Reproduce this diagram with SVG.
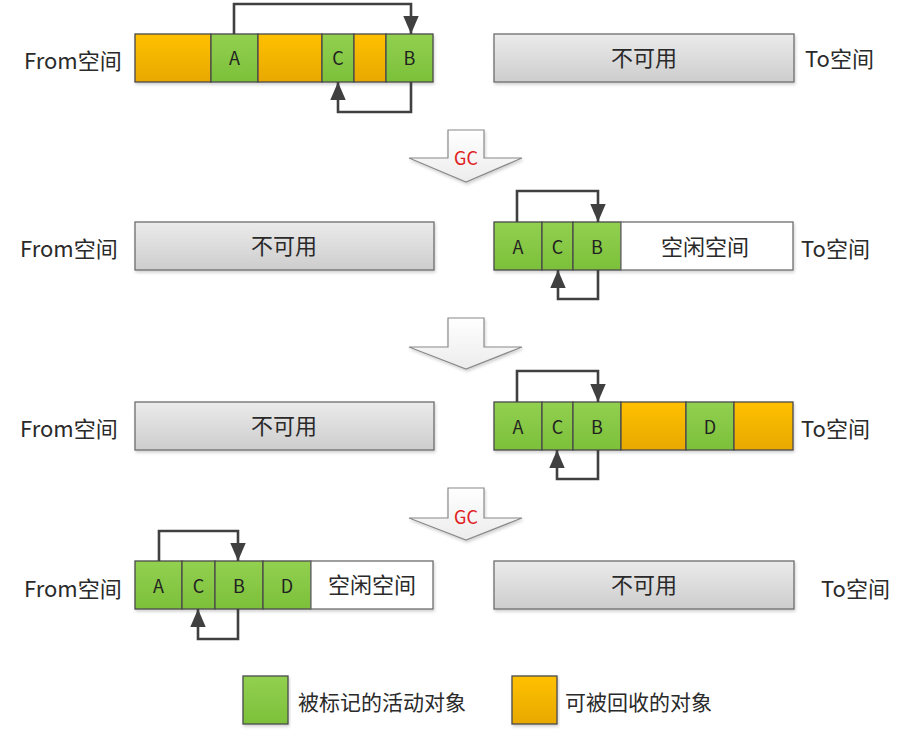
<svg xmlns="http://www.w3.org/2000/svg" width="897" height="751" viewBox="0 0 897 751">
<defs>
<linearGradient id="gGreen" x1="0" y1="0" x2="0" y2="1"><stop offset="0" stop-color="#92d050"/><stop offset="1" stop-color="#7cc03a"/></linearGradient>
<linearGradient id="gOrange" x1="0" y1="0" x2="0" y2="1"><stop offset="0" stop-color="#ffc000"/><stop offset="1" stop-color="#e8a800"/></linearGradient>
<linearGradient id="gGray" x1="0" y1="0" x2="0" y2="1"><stop offset="0" stop-color="#ebebeb"/><stop offset="1" stop-color="#cdcdcd"/></linearGradient>
<linearGradient id="gArrow" x1="0" y1="0" x2="0" y2="1"><stop offset="0" stop-color="#ffffff"/><stop offset="1" stop-color="#ececec"/></linearGradient>
<filter id="sh" x="-5%" y="-10%" width="110%" height="130%"><feDropShadow dx="1" dy="2" stdDeviation="1.5" flood-color="#000" flood-opacity="0.18"/></filter>
<marker id="ah" viewBox="0 0 14 12" refX="14" refY="6" markerWidth="7" markerHeight="6" orient="auto" markerUnits="strokeWidth"><path d="M0,0 L14,6 L0,12 z" fill="#404040"/></marker>
</defs>
<style>
.g{fill:url(#gGreen);stroke:#4a4a4a;stroke-width:1.3}
.o{fill:url(#gOrange);stroke:#4a4a4a;stroke-width:1.3}
.gr{fill:url(#gGray);stroke:#6e6e6e;stroke-width:1.3}
.w{fill:#fff;stroke:#6e6e6e;stroke-width:1.3}
.t{font-family:"Noto Sans CJK SC","Noto Sans",sans-serif;fill:#2a2a2a;font-size:22px;dominant-baseline:central}
.lg{font-size:21px}
.c{font-family:"Noto Sans CJK SC","Noto Sans",sans-serif;fill:#222;font-size:18px;text-anchor:middle;dominant-baseline:central}
.m{text-anchor:middle}
.a{fill:none;stroke:#404040;stroke-width:2.6;marker-end:url(#ah)}
.big{fill:url(#gArrow);stroke:#8a8a8a;stroke-width:1.2;filter:url(#sh)}
.gc{font-family:"Noto Sans CJK SC","Noto Sans",sans-serif;fill:#e02020;font-size:18px;text-anchor:middle;dominant-baseline:central}
</style>

<!-- Labels -->
<g id="labels">
<text class="t" x="24" y="59">From空间</text>
<text class="t" x="805" y="57">To空间</text>
<text class="t" x="20" y="247">From空间</text>
<text class="t" x="801" y="247">To空间</text>
<text class="t" x="20" y="427">From空间</text>
<text class="t" x="801" y="427">To空间</text>
<text class="t" x="24" y="587">From空间</text>
<text class="t" x="821" y="587">To空间</text>
</g>

<!-- Row 1 -->
<g id="row1-from" filter="url(#sh)">
<rect class="o" x="135" y="34" width="76" height="48"/>
<rect class="g" x="211" y="34" width="47" height="48"/>
<rect class="o" x="258" y="34" width="64" height="48"/>
<rect class="g" x="322" y="34" width="32" height="48"/>
<rect class="o" x="354" y="34" width="32" height="48"/>
<rect class="g" x="386" y="34" width="47" height="48"/>
</g>
<g id="row1-from-text">
<text class="c" x="234.5" y="57">A</text>
<text class="c" x="338" y="57">C</text>
<text class="c" x="409.5" y="57">B</text>
</g>
<g id="row1-to">
<rect class="gr" x="494" y="34" width="300" height="48" filter="url(#sh)"/>
<text class="t m" x="644" y="56">不可用</text>
</g>

<!-- GC arrow 1 -->
<g id="gc1">
<path class="big" d="M448,130 H484 V158 H522 L466,182 L409,158 H448 Z"/>
<text class="gc" x="466" y="157">GC</text>
</g>

<!-- Row 2 -->
<g id="row2-from">
<rect class="gr" x="135" y="222" width="299" height="48" filter="url(#sh)"/>
<text class="t m" x="284" y="244">不可用</text>
</g>
<g id="row2-to">
<g filter="url(#sh)">
<rect class="g" x="494" y="222" width="48" height="48"/>
<rect class="g" x="542" y="222" width="31" height="48"/>
<rect class="g" x="573" y="222" width="48" height="48"/>
<rect class="w" x="621" y="222" width="172" height="48"/>
</g>
<text class="c" x="518" y="246">A</text>
<text class="c" x="557.5" y="246">C</text>
<text class="c" x="597" y="246">B</text>
<text class="t m" x="705" y="245">空闲空间</text>
</g>

<!-- Arrow 2 -->
<g id="arrow2">
<path class="big" d="M448,318 H484 V347 H522 L466,369 L409,347 H448 Z"/>
</g>

<!-- Row 3 -->
<g id="row3-from">
<rect class="gr" x="135" y="402" width="299" height="48" filter="url(#sh)"/>
<text class="t m" x="284" y="424">不可用</text>
</g>
<g id="row3-to">
<g filter="url(#sh)">
<rect class="g" x="494" y="402" width="48" height="48"/>
<rect class="g" x="542" y="402" width="31" height="48"/>
<rect class="g" x="573" y="402" width="48" height="48"/>
<rect class="o" x="621" y="402" width="65" height="48"/>
<rect class="g" x="686" y="402" width="48" height="48"/>
<rect class="o" x="734" y="402" width="59" height="48"/>
</g>
<text class="c" x="518" y="426">A</text>
<text class="c" x="557.5" y="426">C</text>
<text class="c" x="597" y="426">B</text>
<text class="c" x="710" y="426">D</text>
</g>

<!-- GC arrow 3 -->
<g id="gc3">
<path class="big" d="M448,488 H484 V518 H522 L466,540 L409,518 H448 Z"/>
<text class="gc" x="466" y="516">GC</text>
</g>

<!-- Row 4 -->
<g id="row4-from">
<g filter="url(#sh)">
<rect class="g" x="135" y="561" width="47" height="48"/>
<rect class="g" x="182" y="561" width="33" height="48"/>
<rect class="g" x="215" y="561" width="48" height="48"/>
<rect class="g" x="263" y="561" width="48" height="48"/>
<rect class="w" x="311" y="561" width="122" height="48"/>
</g>
<text class="c" x="158.5" y="585">A</text>
<text class="c" x="198.5" y="585">C</text>
<text class="c" x="239" y="585">B</text>
<text class="c" x="287" y="585">D</text>
<text class="t m" x="372" y="583">空闲空间</text>
</g>
<g id="row4-to">
<rect class="gr" x="494" y="561" width="300" height="48" filter="url(#sh)"/>
<text class="t m" x="644" y="583">不可用</text>
</g>

<!-- Connectors -->
<g id="connectors">
<path class="a" d="M234,34 V4 H411 V34"/>
<path class="a" d="M411,82 V112 H338 V82"/>
<path class="a" d="M517,222 V191 H598 V222"/>
<path class="a" d="M598,270 V299 H558 V270"/>
<path class="a" d="M517,402 V371 H598 V402"/>
<path class="a" d="M598,450 V479 H557 V450"/>
<path class="a" d="M159,561 V531 H238 V561"/>
<path class="a" d="M238,609 V639 H198 V609"/>
</g>

<!-- Legend -->
<g id="legend-green">
<rect class="g" x="243" y="676" width="45" height="48" filter="url(#sh)"/>
<text class="t lg" x="298" y="701">被标记的活动对象</text>
</g>
<g id="legend-orange">
<rect class="o" x="512" y="676" width="45" height="48" filter="url(#sh)"/>
<text class="t lg" x="565" y="701">可被回收的对象</text>
</g>
</svg>
